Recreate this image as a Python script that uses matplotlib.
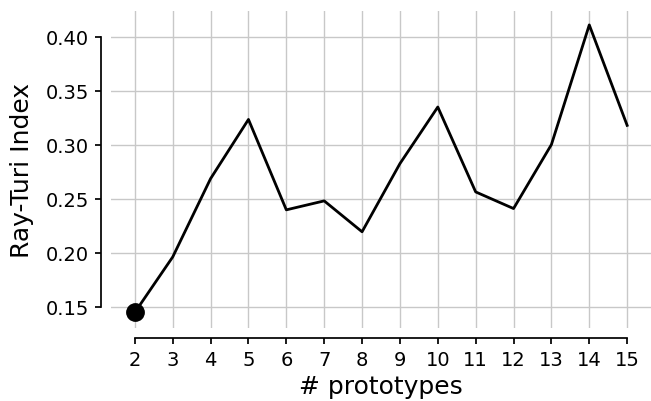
import matplotlib
matplotlib.use("Agg")
import matplotlib.pyplot as plt

prototypes = [2, 3, 4, 5, 6, 7, 8, 9, 10, 11, 12, 13, 14, 15]
ray_turi = [0.1447, 0.196, 0.2685, 0.3233, 0.2396, 0.2479, 0.2193,
            0.2824, 0.3348, 0.2562, 0.2408, 0.300, 0.4108, 0.3178]
yticks = [0.15, 0.20, 0.25, 0.30, 0.35, 0.40]

plt.rcParams['font.family'] = ['DejaVu Sans']
fig = plt.figure(figsize=(6.51, 4.02), dpi=100)
ax = fig.add_axes([0.1705, 0.181, 0.8295, 0.79])

ax.plot(prototypes, ray_turi, color='black', lw=2, zorder=3)
ax.plot(prototypes[:1], ray_turi[:1], 'o', color='black', ms=12.5, zorder=4, clip_on=False)

ax.set_xlim(1.37, 15.63)
ax.set_ylim(0.130, 0.424)
ax.set_xticks(prototypes)
ax.set_xticklabels([str(p) for p in prototypes])
ax.set_yticks(yticks)
ax.set_yticklabels([f"{v:.2f}" for v in yticks])

ax.grid(True, color='#c8c8c8', lw=1.0, zorder=0)
ax.set_axisbelow(True)

for s in ['top', 'right']:
    ax.spines[s].set_visible(False)
for s in ['left', 'bottom']:
    ax.spines[s].set_position(('outward', 7))
    ax.spines[s].set_linewidth(1.25)
ax.spines['left'].set_bounds(0.15, 0.40)
ax.spines['bottom'].set_bounds(2, 15)

ax.tick_params(axis='both', direction='out', length=4, width=1.25, labelsize=14)
ax.tick_params(axis='y', pad=5)
ax.tick_params(axis='x', pad=4.5)
ax.set_xlabel('# prototypes', fontsize=18, labelpad=4)
ax.set_ylabel('Ray-Turi Index', fontsize=18, labelpad=8)

fig.savefig('out.png', dpi=100)
